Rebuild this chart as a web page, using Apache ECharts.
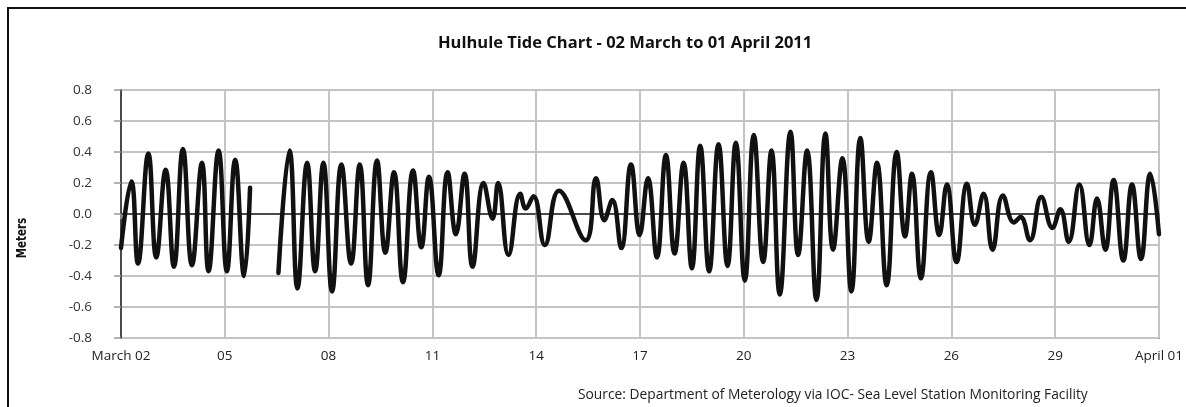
<!DOCTYPE html>
<html>
<head>
<meta charset="utf-8">
<script src="https://cdn.jsdelivr.net/npm/echarts@6/dist/echarts.min.js"></script>
<style>
  html, body { margin: 0; padding: 0; background: #fff; }
  #wrap { position: relative; width: 1186px; height: 407px; overflow: hidden; }
  #frame { position: absolute; left: 7px; top: 7px; width: 1200px; height: 420px;
           border-top: 2px solid #111; border-left: 2px solid #111; }
  #chart { position: absolute; left: 0; top: 0; width: 1186px; height: 407px; }
</style>
</head>
<body>
<div id="wrap">
  <div id="frame"></div>
  <div id="chart"></div>
</div>
<script>
// days after 02 March 2011, 00:00 (high and low waters)
var tideDays = [
  0.00, 0.30, 0.49, 0.79, 1.02, 1.29, 1.53, 1.79, 2.05, 2.34, 2.53, 2.82,
  3.06, 3.30, 3.56, 3.73, 4.10, 4.55, 4.87, 5.10, 5.38, 5.61, 5.85, 6.10,
  6.37, 6.65, 6.90, 7.14, 7.40, 7.64, 7.89, 8.15, 8.44, 8.68, 8.90, 9.18,
  9.44, 9.68, 9.93, 10.16, 10.48, 10.74, 10.90, 11.20, 11.54, 11.70, 11.92, 12.25,
  12.66, 13.43, 13.73, 13.97, 14.20, 14.46, 14.74, 14.99, 15.23, 15.49, 15.75, 16.00,
  16.26, 16.50, 16.74, 17.00, 17.27, 17.53, 17.77, 18.03, 18.29, 18.56, 18.80, 19.04,
  19.35, 19.57, 19.83, 20.10, 20.36, 20.58, 20.85, 21.11, 21.37, 21.61, 21.85, 22.13,
  22.42, 22.66, 22.86, 23.12, 23.41, 23.65, 23.87, 24.15, 24.45, 24.68, 24.93, 25.19,
  25.49, 25.81, 26.00, 26.27, 26.60, 26.92, 27.15, 27.39, 27.70, 27.99, 28.21, 28.45,
  28.69, 28.97, 29.22, 29.48, 29.75, 30.00
];
// sea level in meters, null = missing record
var tideMeters = [
  -0.22, 0.21, -0.32, 0.39, -0.28, 0.285, -0.34, 0.42, -0.33, 0.33, -0.37, 0.41,
  -0.37, 0.35, -0.40, 0.17, null, -0.38, 0.41, -0.48, 0.33, -0.37, 0.33, -0.50,
  0.32, -0.32, 0.32, -0.46, 0.345, -0.25, 0.27, -0.44, 0.28, -0.215, 0.24, -0.395,
  0.27, -0.13, 0.26, -0.34, 0.20, -0.03, 0.20, -0.265, 0.13, 0.035, 0.115, -0.20,
  0.15, -0.17, 0.23, -0.04, 0.09, -0.22, 0.32, -0.135, 0.23, -0.28, 0.38, -0.255,
  0.33, -0.35, 0.44, -0.37, 0.45, -0.335, 0.46, -0.43, 0.51, -0.31, 0.41, -0.52,
  0.53, -0.265, 0.41, -0.555, 0.52, -0.23, 0.36, -0.50, 0.49, -0.18, 0.33, -0.46,
  0.40, -0.145, 0.26, -0.415, 0.27, -0.135, 0.19, -0.31, 0.195, -0.07, 0.13, -0.23,
  0.12, -0.055, -0.02, -0.17, 0.11, -0.09, 0.03, -0.18, 0.19, -0.20, 0.10, -0.23,
  0.22, -0.30, 0.19, -0.29, 0.26, -0.13
];
var dayLabels = ['March 02', '05', '08', '11', '14', '17', '20', '23', '26', '29', 'April 01'];

var chart = echarts.init(document.getElementById('chart'));

var seriesData = tideDays.map(function (d, i) {
  return [d, tideMeters[i] === null ? '-' : tideMeters[i]];
});

chart.setOption({
  animation: false,
  title: {
    text: 'Hulhule Tide Chart - 02 March to 01 April 2011',
    left: 433,
    top: 30,
    textStyle: { fontFamily: 'Open Sans', fontWeight: 'bold', fontSize: 16.5, color: '#111' }
  },
  grid: {
    left: 121, right: 23, top: 90, bottom: 69,
    show: true, borderColor: '#222', borderWidth: 1.5
  },
  xAxis: {
    type: 'value',
    min: 0, max: 30, interval: 3,
    axisLine: { show: true, lineStyle: { color: '#222', width: 1.5 } },
    axisTick: { show: true, length: 5, lineStyle: { color: '#999', width: 1.5 } },
    axisLabel: {
      margin: 11, color: '#222', fontSize: 13.5, fontFamily: 'Open Sans',
      formatter: function (v) { return dayLabels[Math.round(v / 3)]; }
    },
    splitLine: { show: true, lineStyle: { color: '#c4c4c4', width: 2 } }
  },
  yAxis: {
    type: 'value',
    min: -0.8, max: 0.8, interval: 0.2,
    axisLine: { show: true, lineStyle: { color: '#222', width: 1.5 } },
    axisTick: { show: true, length: 7, lineStyle: { color: '#999', width: 1.5 } },
    axisLabel: {
      margin: 29, color: '#333', fontSize: 13.5, fontFamily: 'Open Sans',
      formatter: function (v) { return Math.abs(v) < 1e-9 ? '0.0' : v.toFixed(1); }
    },
    splitLine: { show: true, lineStyle: { color: '#c4c4c4', width: 2 } }
  },
  graphic: [
    {
      type: 'text', x: 22, y: 238, rotation: Math.PI / 2, scaleX: 0.82,
      style: {
        text: 'Meters', fill: '#111', fontSize: 14, fontWeight: 'bold',
        fontFamily: 'Liberation Sans Narrow, DejaVu Sans Condensed, sans-serif',
        align: 'center', verticalAlign: 'middle'
      }
    },
    {
      type: 'text', x: 578, y: 395,
      style: {
        text: 'Source: Department of Meterology via IOC- Sea Level Station Monitoring Facility',
        fill: '#222', fontSize: 13.8, fontFamily: 'Open Sans',
        verticalAlign: 'middle'
      }
    }
  ],
  series: [{
    type: 'line',
    data: seriesData,
    smooth: 0.45,
    showSymbol: false,
    connectNulls: false,
    lineStyle: { color: '#111', width: 4.5, cap: 'round', join: 'round' }
  }]
});
</script>
</body>
</html>
